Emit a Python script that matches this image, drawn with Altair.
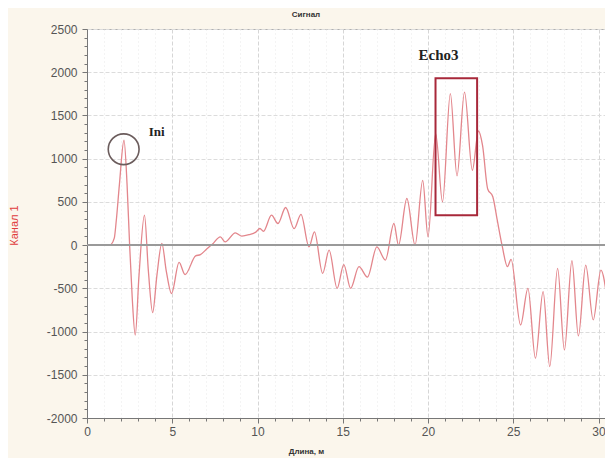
import altair as alt
import pandas as pd

# Signal trace (length in m, amplitude of channel 1)
dist = [1.39, 1.60, 1.72, 1.90, 2.17, 2.35, 2.50, 2.65, 2.83, 3.05, 3.37, 3.60, 3.85, 4.10,
        4.39, 4.65, 4.96, 5.40, 5.75, 6.37, 6.65, 7.05, 7.35, 7.82, 8.10, 8.70, 9.08, 9.50,
        9.90, 10.14, 10.35, 10.82, 11.20, 11.65, 12.15, 12.55, 13.02, 13.34, 13.82, 14.20,
        14.67, 15.06, 15.46, 15.95, 16.45, 17.00, 17.50, 18.00, 18.27, 18.76, 19.24, 19.69,
        20.00, 20.45, 20.85, 21.31, 21.70, 22.14, 22.60, 22.96, 23.20, 23.50, 23.80, 24.05,
        24.35, 24.66, 24.87, 25.43, 25.86, 26.30, 26.75, 27.14, 27.60, 28.00, 28.44, 28.82,
        29.25, 29.69, 30.14, 30.55]
amp = [0, 80, 290, 700, 1213, 700, 0, -600, -1040, -350, 346, -300, -780, -350,
       20, -300, -560, -200, -340, -125, -110, -40, 10, 96, 38, 142, 104, 120,
       150, 192, 160, 346, 250, 435, 190, 355, -20, 154, -327, -58,
       -500, -225, -500, -250, -370, -20, -173, 250, 0, 539, 0, 750,
       96, 1290, 500, 1752, 800, 1770, 866, 1320, 1150, 650, 560, 300,
       -10, -250, -165, -924, -500, -1309, -539, -1405, -269, -1213, -181, -1051,
       -231, -866, -289, -693]

zero_level = [0]

# Annotations
ini_label = ["Ini"]
ini_label_x = [3.62]
ini_label_y = [1310]
ini_circle_x = [2.15]
ini_circle_y = [1109]

echo_label = ["Echo3"]
echo_label_x = [20.62]
echo_label_y = [2195]
echo_box_x = [20.44]
echo_box_x2 = [22.88]
echo_box_y = [346]
echo_box_y2 = [1929]

x_ticks = list(range(0, 31))
y_ticks = list(range(-2000, 2501, 100))

sig = pd.DataFrame({"d": dist, "a": amp})

xscale = alt.Scale(domain=[0, 30.38], nice=False, zero=False)
yscale = alt.Scale(domain=[-2000, 2500], nice=False)

x_axis = alt.Axis(
    values=x_ticks,
    labelExpr="datum.value % 5 === 0 ? datum.label : ''",
    labelOverlap=False, labelFlush=False,
    title="Длина, м",
    titleFontSize=8, titleFontWeight="bold", titleColor="#333", titleFont="Liberation Sans",
    titleX=219, titleY=33, titleAlign="center", titleBaseline="middle",
    labelFontSize=12, labelColor="#555", labelFont="Liberation Sans",
    labelPadding=3,
    domainColor="#777",
    tickColor="#777",
    tickSize={"condition": {"test": "datum.value % 5 === 0", "value": 5}, "value": 3},
    gridColor={"condition": {"test": "datum.value % 5 === 0", "value": "#d6d6d6"}, "value": "#e8e8e8"},
    gridDash={"condition": {"test": "datum.value % 5 === 0", "value": [4, 2]}, "value": [1, 3]},
)
y_axis = alt.Axis(
    values=y_ticks,
    labelExpr="datum.value % 500 === 0 ? '' + datum.value : ''",
    labelOverlap=False, labelFlush=False,
    title="Канал 1",
    titleFontSize=11, titleColor="#e03c3c", titleFont="Liberation Sans", titleFontWeight="normal",
    titleX=-73, titleY=196, titleAngle=270, titleAlign="center", titleBaseline="middle",
    labelFontSize=12, labelColor="#555", labelFont="Liberation Sans",
    labelPadding=5,
    domainColor="#777",
    tickColor="#777",
    tickSize={"condition": {"test": "datum.value % 500 === 0", "value": 5}, "value": 3},
    gridColor="#dcdcdc",
    gridDash=[4, 2],
    gridOpacity={"condition": {"test": "datum.value % 500 === 0", "value": 1}, "value": 0},
)


def X(field):
    return alt.X(field, scale=xscale, axis=x_axis)


def Y(field):
    return alt.Y(field, scale=yscale, axis=y_axis)


line = alt.Chart(sig).mark_line(
    color="#e3868c", strokeWidth=1.3, interpolate="monotone", clip=True
).encode(x=X("d:Q"), y=Y("a:Q"))

zero = alt.Chart(pd.DataFrame({"z": zero_level})).mark_rule(
    color="#9a9a9a", strokeWidth=2
).encode(y=Y("z:Q"))

box = alt.Chart(pd.DataFrame({
    "x": echo_box_x, "x2": echo_box_x2, "y": echo_box_y, "y2": echo_box_y2
})).mark_rect(fill=None, fillOpacity=0, stroke="#a8283a", strokeWidth=2).encode(
    x=X("x:Q"), x2="x2:Q", y=Y("y:Q"), y2="y2:Q",
)

circle = alt.Chart(pd.DataFrame({"x": ini_circle_x, "y": ini_circle_y})).mark_point(
    shape="circle", size=950, filled=False, stroke="#6b5c5c", strokeWidth=1.6, opacity=1
).encode(x=X("x:Q"), y=Y("y:Q"))

ini_text = alt.Chart(pd.DataFrame({"x": ini_label_x, "y": ini_label_y, "t": ini_label})).mark_text(
    font="Liberation Serif", fontWeight="bold", fontSize=13, align="left", baseline="middle",
    color="#222"
).encode(x=X("x:Q"), y=Y("y:Q"), text="t:N")

echo_text = alt.Chart(pd.DataFrame({"x": echo_label_x, "y": echo_label_y, "t": echo_label})).mark_text(
    font="Liberation Serif", fontWeight="bold", fontSize=15, align="center", baseline="middle",
    color="#222"
).encode(x=X("x:Q"), y=Y("y:Q"), text="t:N")

chart = alt.layer(line, zero, box, circle, ini_text, echo_text).properties(
    width=518,
    height=389,
    title=alt.TitleParams("Сигнал", fontSize=8, fontWeight="bold", color="#333",
                          anchor="middle", dx=-40, offset=4, font="Liberation Sans"),
    autosize=alt.AutoSizeParams(type="none"),
    padding={"left": 79, "top": 21, "right": 0, "bottom": 40},
).configure(
    background="#fbf6ec",
).configure_view(
    fill="white", stroke="#b0b0b0"
)

chart.save("out.html", embed_options={"renderer": "svg", "actions": False})
